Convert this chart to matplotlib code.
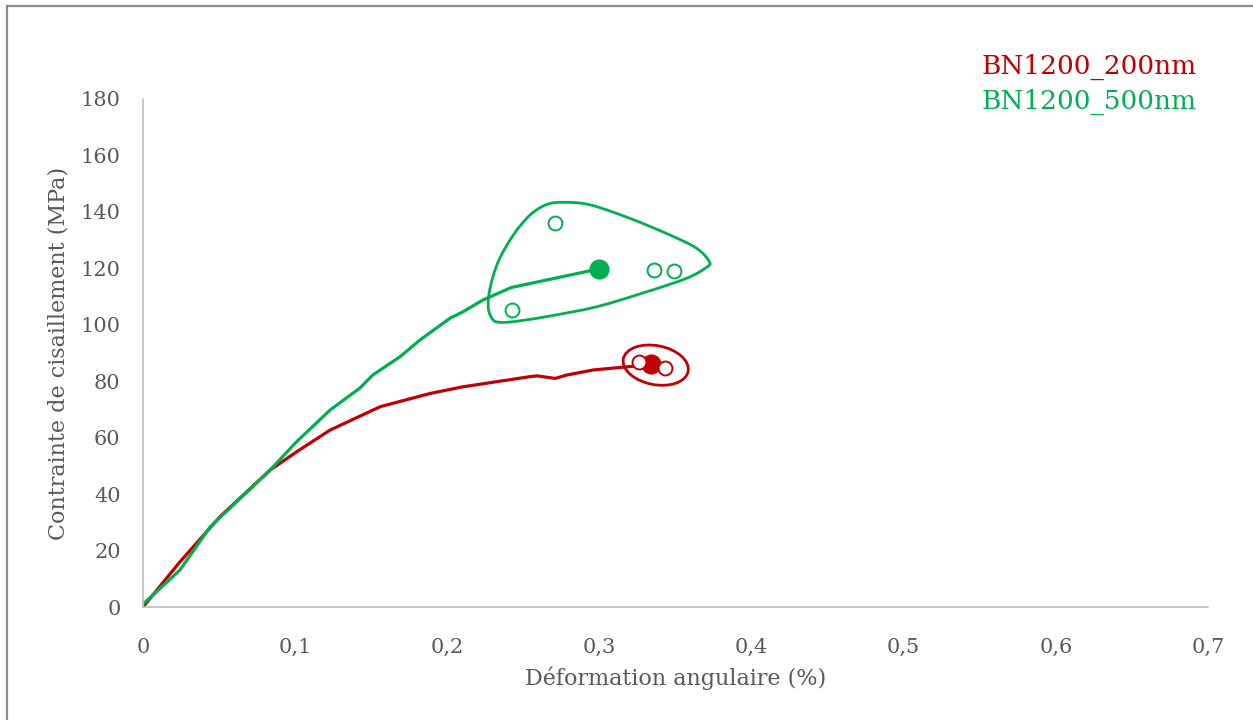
import numpy as np
import matplotlib.pyplot as plt
from matplotlib.path import Path
from matplotlib.patches import PathPatch, Ellipse, Rectangle
from matplotlib.transforms import ScaledTranslation
from matplotlib.ticker import FuncFormatter

# curve BN1200_200nm (strain %, stress MPa)
strain_200 = [0.0, 0.0243, 0.0506, 0.0835, 0.101, 0.123, 0.156, 0.189, 0.210,
              0.254, 0.259, 0.271, 0.2785, 0.296, 0.320, 0.334]
stress_200 = [0.0, 16.0, 32.0, 48.5, 55.0, 62.7, 71.0, 75.7, 78.0,
              81.6, 81.9, 81.0, 82.2, 84.0, 85.2, 86.0]

# curve BN1200_500nm
strain_500 = [0.0, 0.0243, 0.044, 0.0835, 0.101, 0.123, 0.1426, 0.151, 0.169,
              0.182, 0.202, 0.210, 0.2235, 0.242, 0.2997]
stress_500 = [1.0, 13.1, 28.3, 48.5, 58.6, 69.8, 77.6, 82.2, 88.7,
              94.6, 102.4, 104.5, 108.8, 113.2, 119.8]

# individual test results (open circles)
scatter_200_x = [0.326, 0.343]
scatter_200_y = [86.9, 84.6]
scatter_500_x = [0.271, 0.2427, 0.336, 0.349]
scatter_500_y = [136.0, 105.2, 119.4, 119.1]

# hand drawn outline around the 500nm points
outline_x = [0.2302, 0.2270, 0.2281, 0.2335, 0.2434, 0.2544, 0.2653, 0.2763,
             0.2938, 0.3201, 0.3464, 0.3639, 0.3722, 0.3705, 0.3574, 0.3311,
             0.2982, 0.2653, 0.2434, 0.2347]
outline_y = [101.7, 105.8, 112.9, 122.4, 131.8, 138.9, 142.6, 143.4,
             142.5, 137.7, 131.8, 127.1, 122.4, 120.4, 116.5, 111.7,
             106.4, 102.9, 101.1, 100.9]

labels = ["BN1200_200nm", "BN1200_500nm"]
red = "#C00000"
green = "#00B050"
grey = "#595959"

plt.rcParams["font.family"] = ["DejaVu Serif"]

fig = plt.figure(figsize=(12.53, 7.2), dpi=100)
ax = fig.add_axes([0.1141, 0.1569, 0.85, 0.7056])

ax.plot(strain_200, stress_200, color=red, lw=2.3, solid_capstyle="round")
ax.plot(strain_500, stress_500, color=green, lw=2.3, solid_capstyle="round")

ax.plot(strain_200[-1], stress_200[-1], "o", color=red, ms=13.5)
ax.plot(strain_500[-1], stress_500[-1], "o", color=green, ms=13.5)

ax.plot(scatter_200_x, scatter_200_y, "o", mfc="white", mec=red, mew=1.4, ms=10)
ax.plot(scatter_500_x, scatter_500_y, "o", mfc="white", mec=green, mew=1.4, ms=10)

# closed smooth outline (catmull-rom -> cubic bezier control points)
pts = np.column_stack([outline_x, outline_y])
n = len(pts)
verts = [pts[0]]
codes = [Path.MOVETO]
for i in range(n):
    p0, p1, p2, p3 = pts[i - 1], pts[i], pts[(i + 1) % n], pts[(i + 2) % n]
    verts += [p1 + (p2 - p0) / 6, p2 - (p3 - p1) / 6, p2]
    codes += [Path.CURVE4] * 3
ax.add_patch(PathPatch(Path(verts, codes), fill=False, ec=green, lw=2))

# ellipse around the 200nm points, sized in inches around a data point
trans = fig.dpi_scale_trans + ScaledTranslation(0.337, 85.7, ax.transData)
ax.add_patch(Ellipse((0, 0), 0.66, 0.39, angle=-11, fill=False, ec=red, lw=2,
                     transform=trans))

ax.set_xlim(0, 0.7)
ax.set_ylim(0, 180)
ax.set_xticks(np.arange(0, 0.71, 0.1))
ax.set_yticks(np.arange(0, 181, 20))
ax.xaxis.set_major_formatter(FuncFormatter(lambda v, p: f"{v:.1f}".replace(".", ",") if v else "0"))
ax.tick_params(length=0, labelsize=15, colors=grey)
ax.tick_params(axis="x", pad=22)
ax.tick_params(axis="y", pad=16)

for s in ["top", "right"]:
    ax.spines[s].set_visible(False)
for s in ["left", "bottom"]:
    ax.spines[s].set_color("#BFBFBF")
    ax.spines[s].set_linewidth(1.2)

ax.set_xlabel("Déformation angulaire (%)", fontsize=16, color=grey, labelpad=7)
ax.set_ylabel("Contrainte de cisaillement (MPa)", fontsize=16, color=grey, labelpad=8)

fig.text(0.7837, 0.907, labels[0], color=red, fontsize=19, va="center")
fig.text(0.7837, 0.858, labels[1], color=green, fontsize=19, va="center")

# outer chart border
fig.patches.append(Rectangle((7 / 1253, -0.05), 1.1, 1 - 6 / 720 + 0.05,
                             transform=fig.transFigure, fill=False,
                             ec="#8C8C8C", lw=1.6))

fig.savefig("out.png", dpi=100)
